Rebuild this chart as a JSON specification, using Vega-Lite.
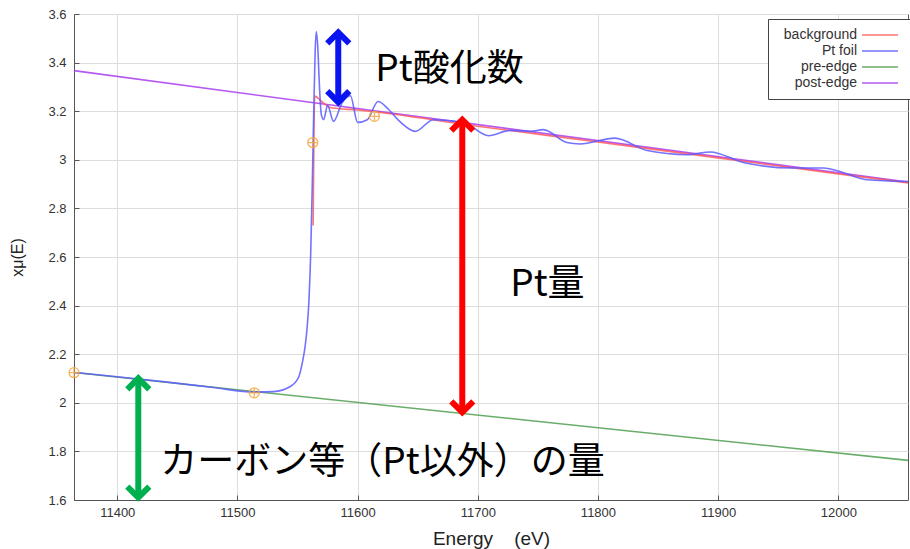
{
  "$schema": "https://vega.github.io/schema/vega-lite/v6.json",
  "width": 834,
  "height": 486,
  "autosize": "none",
  "padding": {"left": 74, "top": 14, "right": 2, "bottom": 49},
  "background": "white",
  "config": {
    "view": {"stroke": "#555", "strokeWidth": 1},
    "axis": {
      "gridColor": "#dddddd", "gridWidth": 1,
      "domainColor": "#555", "tickColor": "#555",
      "labelColor": "#333", "labelFont": "Liberation Sans", "labelFontSize": 13,
      "titleFont": "Liberation Sans", "titleFontWeight": "normal", "titleColor": "#222"
    }
  },
  "datasets": {
    "curves": [
      {"s": "pre-edge", "E": 11364, "v": 2.1245},
      {"s": "pre-edge", "E": 12058, "v": 1.763},
      {"s": "post-edge", "E": 11364, "v": 3.367},
      {"s": "post-edge", "E": 12058, "v": 2.908},
      {"s": "background", "E": 11563, "v": 2.73},
      {"s": "background", "E": 11564.3, "v": 3.262},
      {"s": "background", "E": 11570, "v": 3.24},
      {"s": "background", "E": 11578, "v": 3.214},
      {"s": "background", "E": 11600, "v": 3.205},
      {"s": "background", "E": 11700, "v": 3.138},
      {"s": "background", "E": 11800, "v": 3.073},
      {"s": "background", "E": 11900, "v": 3.008},
      {"s": "background", "E": 12000, "v": 2.942},
      {"s": "background", "E": 12058, "v": 2.905},
      {"s": "Pt foil", "E": 11364, "v": 2.125},
      {"s": "Pt foil", "E": 11400, "v": 2.107},
      {"s": "Pt foil", "E": 11440, "v": 2.086},
      {"s": "Pt foil", "E": 11480, "v": 2.063},
      {"s": "Pt foil", "E": 11514, "v": 2.044},
      {"s": "Pt foil", "E": 11530, "v": 2.046},
      {"s": "Pt foil", "E": 11544, "v": 2.067},
      {"s": "Pt foil", "E": 11551, "v": 2.106},
      {"s": "Pt foil", "E": 11554, "v": 2.165},
      {"s": "Pt foil", "E": 11556.4, "v": 2.235},
      {"s": "Pt foil", "E": 11558, "v": 2.31},
      {"s": "Pt foil", "E": 11559.5, "v": 2.42},
      {"s": "Pt foil", "E": 11561, "v": 2.62},
      {"s": "Pt foil", "E": 11562.3, "v": 2.9},
      {"s": "Pt foil", "E": 11563.5, "v": 3.2},
      {"s": "Pt foil", "E": 11564.7, "v": 3.45},
      {"s": "Pt foil", "E": 11565.6, "v": 3.528},
      {"s": "Pt foil", "E": 11566.8, "v": 3.47},
      {"s": "Pt foil", "E": 11568, "v": 3.33},
      {"s": "Pt foil", "E": 11569.8, "v": 3.186},
      {"s": "Pt foil", "E": 11571.7, "v": 3.165},
      {"s": "Pt foil", "E": 11575, "v": 3.223},
      {"s": "Pt foil", "E": 11580, "v": 3.158},
      {"s": "Pt foil", "E": 11587, "v": 3.234},
      {"s": "Pt foil", "E": 11594, "v": 3.264},
      {"s": "Pt foil", "E": 11600, "v": 3.154},
      {"s": "Pt foil", "E": 11608, "v": 3.165},
      {"s": "Pt foil", "E": 11617, "v": 3.24},
      {"s": "Pt foil", "E": 11626, "v": 3.206},
      {"s": "Pt foil", "E": 11635, "v": 3.158},
      {"s": "Pt foil", "E": 11648, "v": 3.117},
      {"s": "Pt foil", "E": 11663, "v": 3.165},
      {"s": "Pt foil", "E": 11688, "v": 3.154},
      {"s": "Pt foil", "E": 11709, "v": 3.099},
      {"s": "Pt foil", "E": 11727, "v": 3.121},
      {"s": "Pt foil", "E": 11744, "v": 3.117},
      {"s": "Pt foil", "E": 11754.5, "v": 3.124},
      {"s": "Pt foil", "E": 11774, "v": 3.071},
      {"s": "Pt foil", "E": 11785, "v": 3.065},
      {"s": "Pt foil", "E": 11814, "v": 3.089},
      {"s": "Pt foil", "E": 11841, "v": 3.038},
      {"s": "Pt foil", "E": 11874, "v": 3.021},
      {"s": "Pt foil", "E": 11893.5, "v": 3.032},
      {"s": "Pt foil", "E": 11921, "v": 2.989},
      {"s": "Pt foil", "E": 11963, "v": 2.966},
      {"s": "Pt foil", "E": 11988, "v": 2.966},
      {"s": "Pt foil", "E": 11999, "v": 2.955},
      {"s": "Pt foil", "E": 12024, "v": 2.918},
      {"s": "Pt foil", "E": 12058, "v": 2.911}
    ],
    "markers": [
      {"E": 11364, "v": 2.124},
      {"E": 11514, "v": 2.041},
      {"E": 11562.7, "v": 3.071},
      {"E": 11614, "v": 3.179}
    ],
    "arrows": [
      {"k": "oxidation", "E": 11583.9, "v": 3.524, "v2": 3.237},
      {"k": "amount", "E": 11687.1, "v": 3.165, "v2": 1.961},
      {"k": "carbon", "E": 11417.5, "v": 2.101, "v2": 1.61}
    ],
    "heads": [
      {"k": "oxidation", "d": "up", "E": 11583.9, "v": 3.524},
      {"k": "oxidation", "d": "down", "E": 11583.9, "v": 3.237},
      {"k": "amount", "d": "up", "E": 11687.1, "v": 3.165},
      {"k": "amount", "d": "down", "E": 11687.1, "v": 1.961},
      {"k": "carbon", "d": "up", "E": 11417.5, "v": 2.101},
      {"k": "carbon", "d": "down", "E": 11417.5, "v": 1.61}
    ],
    "labels": [
      {"t": "Pt酸化数", "E": 11614.7, "v": 3.371},
      {"t": "Pt量", "E": 11727, "v": 2.4845},
      {"t": "カーボン等（Pt以外）の量", "E": 11435.8, "v": 1.7505}
    ]
  },
  "encoding": {
    "x": {
      "field": "E", "type": "quantitative",
      "scale": {"domain": [11364, 12058], "nice": false, "zero": false},
      "axis": {
        "title": "Energy\u00a0\u00a0\u00a0\u00a0(eV)", "titleFontSize": 19, "titlePadding": 10,
        "values": [11400, 11500, 11600, 11700, 11800, 11900, 12000],
        "format": "d", "tickSize": -5, "labelPadding": 11
      }
    },
    "y": {
      "field": "v", "type": "quantitative",
      "scale": {"domain": [1.6, 3.6], "nice": false, "zero": false},
      "axis": {
        "title": "xμ(E)", "titleFontSize": 16, "titlePadding": 22,
        "values": [1.6, 1.8, 2, 2.2, 2.4, 2.6, 2.8, 3, 3.2, 3.4, 3.6],
        "format": ".1~f", "tickSize": -5, "labelPadding": 13
      }
    }
  },
  "layer": [
    {
      "data": {"name": "curves"},
      "mark": {"type": "line", "interpolate": "monotone", "strokeWidth": 1.6, "opacity": 0.85},
      "encoding": {
        "color": {
          "field": "s", "type": "nominal",
          "scale": {"domain": ["background", "Pt foil", "pre-edge", "post-edge"],
                    "range": ["#ff5a5a", "#5a5aff", "#4f9f4f", "#a83cf0"]},
          "legend": {
            "orient": "none", "legendX": 694, "legendY": 5, "title": null,
            "symbolType": "M -3 0 L 3 0", "symbolSize": 144, "symbolStrokeWidth": 1.5,
            "labelAlign": "right", "labelOffset": -30, "symbolOffset": 96,
            "labelFont": "Liberation Sans", "labelFontSize": 14, "labelColor": "#333",
            "strokeColor": "#444", "fillColor": "white", "padding": 9, "rowPadding": 2
          }
        }
      }
    },
    {
      "data": {"name": "markers"},
      "mark": {"type": "point", "filled": false, "stroke": "#f4a640", "strokeWidth": 1.3, "opacity": 0.85, "size": 100,
               "shape": "M -1 0 A 1 1 0 1 1 1 0 A 1 1 0 1 1 -1 0 Z M -1 0 L 1 0 M 0 -1 L 0 1"}
    },
    {
      "data": {"name": "arrows"},
      "mark": {"type": "rule", "strokeWidth": 6},
      "encoding": {
        "y2": {"field": "v2"},
        "stroke": {"field": "k", "type": "nominal", "legend": null,
                   "scale": {"domain": ["oxidation", "amount", "carbon"], "range": ["#0a14f0", "#ff0000", "#00b050"]}}
      }
    },
    {
      "data": {"name": "heads"},
      "mark": {"type": "point", "filled": false, "strokeWidth": 6, "opacity": 1, "size": 484, "strokeJoin": "miter"},
      "encoding": {
        "stroke": {"field": "k", "type": "nominal", "legend": null,
                   "scale": {"domain": ["oxidation", "amount", "carbon"], "range": ["#0a14f0", "#ff0000", "#00b050"]}},
        "shape": {"field": "d", "type": "nominal", "legend": null,
                  "scale": {"domain": ["up", "down"], "range": ["M -1 1 L 0 0 L 1 1", "M -1 -1 L 0 0 L 1 -1"]}}
      }
    },
    {
      "data": {"name": "labels"},
      "mark": {"type": "text", "align": "left", "baseline": "middle", "font": "Noto Sans CJK JP", "fontSize": 37, "color": "#000"},
      "encoding": {"text": {"field": "t"}}
    }
  ]
}
